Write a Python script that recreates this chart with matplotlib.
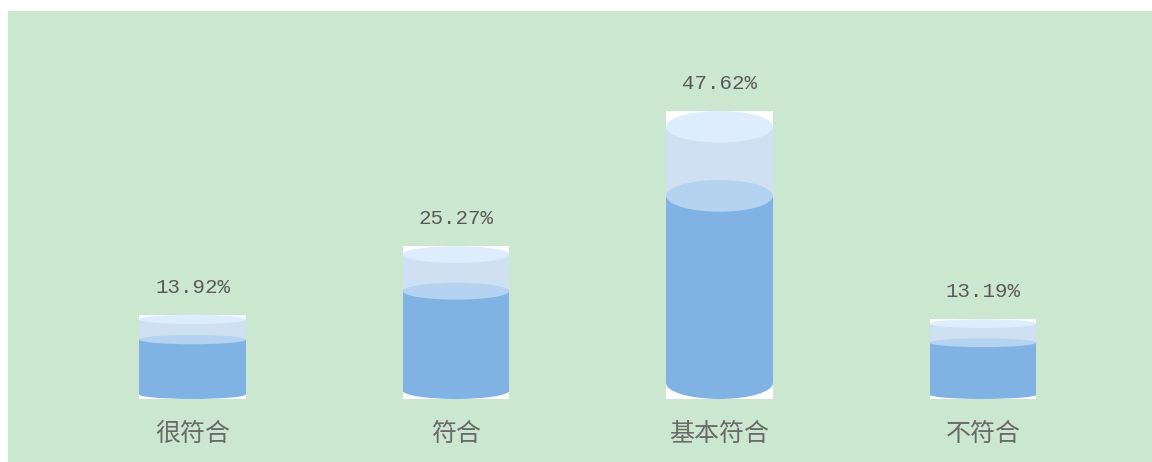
import matplotlib.pyplot as plt
from matplotlib.patches import Rectangle, Ellipse

plt.rcParams['font.family'] = ['Noto Sans CJK SC', 'DejaVu Sans']

categories = ['很符合', '符合', '基本符合', '不符合']
values = [13.92, 25.27, 47.62, 13.19]
labels = ['13.92%', '25.27%', '47.62%', '13.19%']

fill_ratio = 0.705   # liquid level inside each cylinder
bar_w = 0.405
cap_ratio = 0.11     # ellipse height relative to the bar value

bg = '#cce7cf'
c_top = '#ddedfd'
c_body = '#cee0f2'
c_liq_top = '#b3d3f1'
c_liq = '#80b3e3'

fig = plt.figure(figsize=(11.52, 4.62), dpi=100, facecolor='white')
fig.patches.append(Rectangle((8 / 1152, 0), 1 - 8 / 1152, 451 / 462,
                             transform=fig.transFigure, color=bg, zorder=-10))

ax = fig.add_axes([60.75 / 1152, 63 / 462, 1054 / 1152, 302.5 / 462])
ax.set_zorder(5)
ax.set_facecolor('none')
ax.set_xlim(-0.5, 3.5)
ax.set_ylim(0, 50)

for i, v in enumerate(values):
    e = cap_ratio * v
    left = i - bar_w / 2
    lvl = fill_ratio * v
    ax.add_patch(Rectangle((left, 0), bar_w, v, color='white', lw=0))
    ax.add_patch(Rectangle((left, e / 2), bar_w, v - e, color=c_body, lw=0))
    ax.add_patch(Ellipse((i, v - e / 2), bar_w, e, color=c_top, lw=0))
    ax.add_patch(Rectangle((left, e / 2), bar_w, lvl - e / 2, color=c_liq, lw=0))
    ax.add_patch(Ellipse((i, e / 2), bar_w, e, color=c_liq, lw=0))
    ax.add_patch(Ellipse((i, lvl), bar_w, e, color=c_liq_top, lw=0))
    ax.annotate(labels[i], (i, v), xytext=(0, 20), textcoords='offset points',
                ha='center', va='center', fontsize=15, color='#5a5a5a',
                family='Liberation Mono')

ax.set_xticks(range(len(categories)))
ax.set_xticklabels(categories, fontsize=18, color='#6a6a6a')
ax.tick_params(axis='x', length=0, pad=15.5)
ax.set_yticks([])
for s in ax.spines.values():
    s.set_visible(False)

fig.savefig('out.png', dpi=100, facecolor='white')
